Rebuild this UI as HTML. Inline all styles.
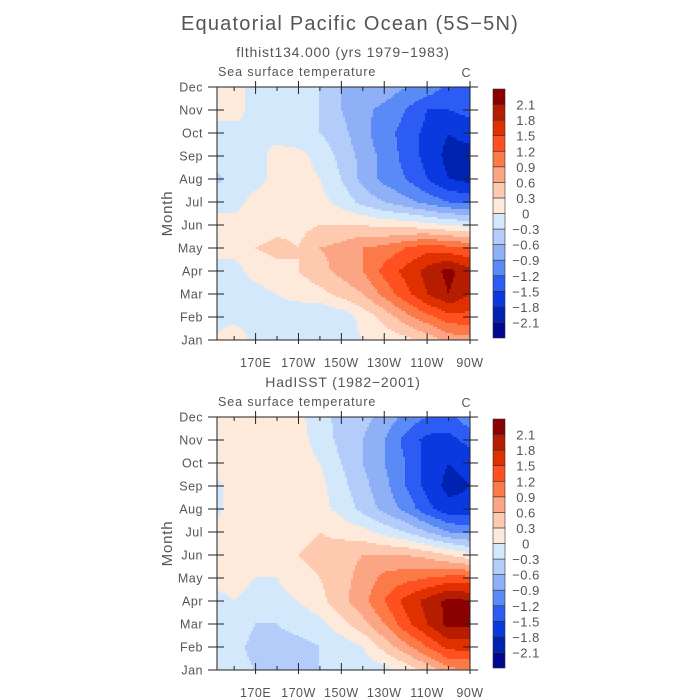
<!DOCTYPE html>
<html><head><meta charset="utf-8"><style>
body{margin:0;background:#fff;}
svg{display:block;font-family:"Liberation Sans",sans-serif;}
text{fill:#555;}
</style></head><body>
<svg id="svg" width="700" height="700" viewBox="0 0 700 700">
<text x="350" y="30" text-anchor="middle" font-size="20" letter-spacing="1.2">Equatorial Pacific Ocean (5S−5N)</text>
</svg>
<script>
const lons=[150,160,170,180,190,200,210,220,230,240,250,260,270];
const months=["Jan","Feb","Mar","Apr","May","Jun","Jul","Aug","Sep","Oct","Nov","Dec"];
const lonTicks=[170,190,210,230,250,270];
const lonTickLabels=["170E","170W","150W","130W","110W","90W"];
const levels=[-2.1,-1.8,-1.5,-1.2,-0.9,-0.6,-0.3,0,0.3,0.6,0.9,1.2,1.5,1.8,2.1];
const levelLabels=["−2.1","−1.8","−1.5","−1.2","−0.9","−0.6","−0.3","0","0.3","0.6","0.9","1.2","1.5","1.8","2.1"];
const colors=["#000890","#0022b0","#0a3adf","#2d5cf5","#5a8af5","#8fb0f7","#b3ccfa","#d4e8fc","#feeadb","#fdcab0","#fca584","#fc7a48","#ff5020","#e03000","#b51c00","#8b0000"];
// rows Jan..Dec, columns lons
const modelSST=[
[0.0,0.2,-0.1,-0.1,-0.1,-0.1,-0.1,0.0,0.1,0.2,0.4,0.7,0.8],
[-0.1,-0.1,-0.1,-0.1,-0.2,-0.3,-0.2,0.1,0.4,0.8,1.1,1.4,1.4],
[-0.1,-0.1,-0.1,0.0,0.1,0.2,0.4,0.6,1.0,1.4,1.8,2.1,1.8],
[-0.1,-0.1,0.1,0.2,0.3,0.5,0.7,0.9,1.3,1.6,1.9,2.2,1.9],
[0.1,0.1,0.3,0.4,0.3,0.6,0.7,0.9,1.0,1.2,1.4,1.3,1.2],
[0.1,0.1,0.1,0.2,0.2,0.3,0.3,0.3,0.2,0.2,0.1,0.0,-0.1],
[-0.1,-0.1,0.1,0.1,0.1,0.1,-0.1,-0.4,-0.6,-0.8,-1.0,-1.2,-1.3],
[-0.4,-0.2,-0.1,0.1,0.1,0.0,-0.3,-0.7,-1.0,-1.2,-1.5,-1.8,-1.9],
[-0.1,-0.2,-0.1,0.1,0.1,-0.1,-0.4,-0.7,-1.0,-1.3,-1.6,-1.9,-1.9],
[-0.1,-0.1,0.0,-0.1,-0.2,-0.3,-0.5,-0.8,-1.1,-1.3,-1.6,-1.8,-1.7],
[0.1,0.1,-0.1,-0.2,-0.2,-0.3,-0.6,-0.8,-1.0,-1.2,-1.5,-1.5,-1.4],
[0.1,0.1,-0.1,-0.1,-0.2,-0.3,-0.6,-0.7,-0.7,-0.9,-1.0,-1.3,-1.2]];
const obsSST=[
[0.0,-0.2,-0.3,-0.3,-0.3,-0.3,-0.3,-0.2,-0.1,0.1,0.4,0.8,0.9],
[-0.1,-0.2,-0.4,-0.4,-0.4,-0.3,-0.2,0.0,0.4,0.8,1.2,1.6,1.6],
[-0.1,-0.1,-0.3,-0.3,-0.2,-0.1,0.2,0.5,0.9,1.4,1.8,2.2,2.2],
[-0.1,0.0,-0.1,-0.1,0.0,0.2,0.5,0.8,1.2,1.6,1.9,2.2,2.1],
[0.1,0.1,0.0,0.0,0.2,0.3,0.5,0.7,1.0,1.1,1.2,1.3,1.3],
[0.1,0.1,0.1,0.1,0.3,0.4,0.5,0.6,0.6,0.6,0.5,0.3,0.1],
[0.1,0.1,0.1,0.1,0.2,0.3,0.2,0.1,-0.1,-0.3,-0.6,-0.9,-1.0],
[-0.1,0.1,0.1,0.1,0.1,0.1,-0.1,-0.4,-0.7,-1.0,-1.4,-1.7,-1.7],
[-0.1,0.1,0.1,0.3,0.1,0.1,-0.2,-0.5,-0.8,-1.2,-1.6,-1.9,-1.8],
[0.1,0.1,0.1,0.1,0.1,0.0,-0.3,-0.6,-0.9,-1.2,-1.6,-1.8,-1.7],
[0.1,0.1,0.1,0.1,0.1,-0.1,-0.4,-0.6,-0.9,-1.3,-1.6,-1.6,-1.4],
[0.1,0.1,0.1,0.1,0.1,-0.2,-0.4,-0.5,-0.7,-1.0,-1.2,-1.3,-1.0]];

const NS='http://www.w3.org/2000/svg';
const svg=document.getElementById('svg');
function mk(tag,attrs,parent){const e=document.createElementNS(NS,tag);for(const k in attrs)e.setAttribute(k,attrs[k]);(parent||svg).appendChild(e);return e;}
function colorFor(v){let i=0;while(i<levels.length&&v>levels[i])i++;return colors[i];}
function sample(data,lon,m){
  let fx=(lon-lons[0])/(lons[1]-lons[0]);fx=Math.max(0,Math.min(lons.length-1.0001,fx));
  let fy=Math.max(0,Math.min(months.length-1.0001,m));
  const i=Math.floor(fx),j=Math.floor(fy),tx=fx-i,ty=fy-j;
  const a=data[j][i],b=data[j][i+1],c=data[j+1][i],d=data[j+1][i+1];
  return (a*(1-tx)+b*tx)*(1-ty)+(c*(1-tx)+d*tx)*ty;
}
function panel(name,data,title,top){
  const L=217,R=470,T=top,B=top+253,lon0=152,lon1=270;
  const xs=lon=>L+(lon-lon0)/(lon1-lon0)*(R-L);
  const ys=m=>B-m/11*(B-T);
  const g=mk('g',{});
  
  
  const t=mk('text',{x:343,y:T-30,'text-anchor':'middle','font-size':14,'letter-spacing':0.8},g);t.textContent=title;
  
  const st=mk('text',{x:218,y:T-11,'font-size':12.5,'letter-spacing':0.9},g);st.textContent='Sea surface temperature';
  
  const u=mk('text',{x:466,y:T-10,'text-anchor':'middle','font-size':12.5},g);u.textContent='C';
  
  const field=mk('g',{},g);
  
  const step=2;
  for(let y=T;y<B;y+=step){
    const m=(B-(y+step/2))/(B-T)*11;
    let runStart=L,runColor=null;
    for(let x=L;;x+=step){
      const done=x>=R;
      const c=done?null:colorFor(sample(data,lon0+(x+step/2-L)/(R-L)*(lon1-lon0),m));
      if(c!==runColor){
        if(runColor){const xe=Math.min(x,R);const r=mk('rect',{x:runStart,y:y,width:xe-runStart+(done?0:0.5),height:Math.min(step+0.5,B-y),fill:runColor},field);
          }
        runStart=x;runColor=c;
      }
      if(done)break;
    }
  }
  const fr=mk('rect',{x:L,y:T,width:R-L,height:B-T,fill:'none',stroke:'#222','stroke-width':1},g);
  
  months.forEach((mn,k)=>{const y=ys(k);
    mk('line',{x1:208,x2:224,y1:y,y2:y,stroke:'#222'},g);mk('line',{x1:463,x2:478,y1:y,y2:y,stroke:'#222'},g);
    const tl=mk('text',{x:203,y:y+4.5,'text-anchor':'end','font-size':12.5,'letter-spacing':0.5},g);tl.textContent=mn;
    });
  for(let lon=160;lon<=270;lon+=10){const x=xs(lon);const major=lonTicks.includes(lon);const h=major?7:4;
    mk('line',{x1:x,x2:x,y1:B,y2:B-h,stroke:'#222'},g);mk('line',{x1:x,x2:x,y1:T,y2:T+h,stroke:'#222'},g);
    mk('line',{x1:x,x2:x,y1:B,y2:B+(major?4:0),stroke:'#222'},g);mk('line',{x1:x,x2:x,y1:T,y2:T-(major?6:0),stroke:'#222'},g);}
  lonTicks.forEach((lon,k)=>{const tl=mk('text',{x:xs(lon),y:B+27,'text-anchor':'middle','font-size':12.5,'letter-spacing':0.5},g);tl.textContent=lonTickLabels[k];
    });
  const yl=mk('text',{x:0,y:0,'text-anchor':'middle','font-size':15,'letter-spacing':0.8,transform:`translate(172,${(T+B)/2}) rotate(-90)`},g);yl.textContent='Month';
  
  const cb=mk('g',{},g);
  const cT=T+2,cB=B-2,h=(cB-cT)/colors.length;
  colors.forEach((c,k)=>{const r=mk('rect',{x:493,y:cB-(k+1)*h,width:12,height:h,fill:c,stroke:'#333','stroke-width':0.6},cb);
    });
  levelLabels.forEach((lb,k)=>{const y=cB-(k+1)*h;const tl=mk('text',{x:526,y:y+5,'text-anchor':'middle','font-size':13,'letter-spacing':0.5},cb);tl.textContent=lb;
    });
}
panel('model-panel',modelSST,'flthist134.000 (yrs 1979−1983)',87);
panel('obs-panel',obsSST,'HadISST (1982−2001)',417);
</script>
</body></html>
